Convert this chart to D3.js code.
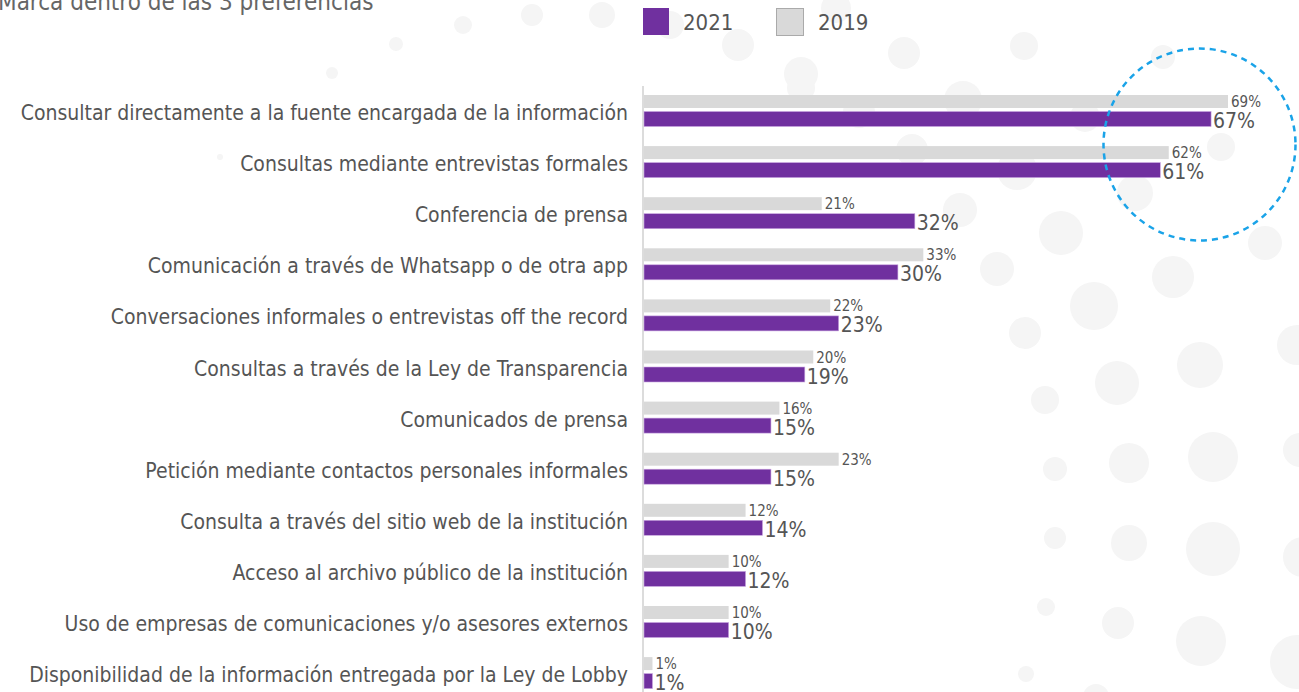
<!DOCTYPE html>
<html>
<head>
<meta charset="utf-8">
<script src="https://cdn.jsdelivr.net/npm/d3@7"></script>
<style>
  html, body { margin: 0; padding: 0; background: #ffffff; }
  svg { display: block; }
  text { font-family: "Liberation Sans Narrow", "DejaVu Sans Condensed", "Roboto", sans-serif; }
</style>
</head>
<body>
<svg id="chart" width="1299" height="692"></svg>
<script>
// ---- Data ----
const title = "Marca dentro de las 3 preferencias";
const categories = [
  "Consultar directamente a la fuente encargada de la información",
  "Consultas mediante entrevistas formales",
  "Conferencia de prensa",
  "Comunicación a través de Whatsapp o de otra app",
  "Conversaciones informales o entrevistas off the record",
  "Consultas a través de la Ley de Transparencia",
  "Comunicados de prensa",
  "Petición mediante contactos personales informales",
  "Consulta a través del sitio web de la institución",
  "Acceso al archivo público de la institución ",
  "Uso de empresas de comunicaciones y/o asesores externos",
  "Disponibilidad de la información entregada por la Ley de Lobby"
];
const values2019 = [69, 62, 21, 33, 22, 20, 16, 23, 12, 10, 10, 1];
const values2021 = [67, 61, 32, 30, 23, 19, 15, 15, 14, 12, 10, 1];
const seriesNames = ["2021", "2019"];

// decorative background dots [x, y, r]
const decorDots = [
  [463,25,9],[532,15,11],[602,15,13],[396,44,7],[332,73,6],[220,157,3],
  [670,25,14],[738,45,16],[801,74,17],[836,8,15],[904,53,16],[1024,46,14],[1163,57,12],
  [963,100,19],[1085,117,15],[1221,147,14],[1017,170,20],[1135,193,18],[859,112,16],
  [912,150,16],[801,88,14],
  [960,210,17],[1061,233,22],[997,269,17],[1173,277,21],[1265,243,17],[1094,306,24],
  [1025,333,16],[1297,345,20],[1200,365,23],[1117,383,22],[1045,400,14],
  [1213,457,25],[1129,463,20],[1055,469,12],[1300,450,17],
  [1213,549,27],[1129,543,18],[1055,538,11],[1303,557,20],
  [1201,641,25],[1118,623,16],[1046,607,9],[1297,662,27],[1026,674,8],[1096,697,13]
];

// ---- Layout ----
const svg = d3.select("#chart");
const x0 = 644;
const x = d3.scaleLinear().domain([0, 69]).range([x0, 1228]);
const y = d3.scaleBand().domain(categories).range([92, 92 + 51.1 * 12]).paddingInner(0).paddingOuter(0);
const colors = { "2021": "#70309f", "2019": "#d9d9d9" };

// background dots
svg.append("g").selectAll("circle").data(decorDots).join("circle")
  .attr("cx", d => d[0]).attr("cy", d => d[1]).attr("r", d => d[2])
  .attr("fill", "#f5f5f5");

// title
svg.append("text").attr("x", -2).attr("y", 10)
  .attr("font-size", 24).attr("fill", "#666").text(title);

// legend
const legend = svg.append("g");
legend.append("rect").attr("x", 643).attr("y", 8).attr("width", 26).attr("height", 27).attr("fill", colors["2021"]);
legend.append("text").attr("x", 683).attr("y", 30).attr("font-size", 22).attr("fill", "#555").text(seriesNames[0]);
legend.append("rect").attr("x", 776.5).attr("y", 8.5).attr("width", 27).attr("height", 27)
  .attr("fill", colors["2019"]).attr("stroke", "#aaaaaa").attr("stroke-width", 1);
legend.append("text").attr("x", 818).attr("y", 30).attr("font-size", 22).attr("fill", "#555").text(seriesNames[1]);

// axis line
svg.append("line").attr("x1", 643).attr("x2", 643).attr("y1", 86).attr("y2", 692)
  .attr("stroke", "#dcdcdc").attr("stroke-width", 2);

// category labels
svg.append("g").selectAll("text").data(categories).join("text")
  .attr("x", 628).attr("y", d => y(d) + 28)
  .attr("text-anchor", "end").attr("font-size", 21).attr("fill", "#555")
  .text(d => d);

// bars
const greyH = 13, purpleH = 15;
svg.append("g").selectAll("rect").data(categories).join("rect")
  .attr("x", x0).attr("y", d => y(d) + 3)
  .attr("width", (d, i) => x(values2019[i]) - x0).attr("height", greyH)
  .attr("fill", colors["2019"]);
svg.append("g").selectAll("rect").data(categories).join("rect")
  .attr("x", x0).attr("y", d => y(d) + 19.5)
  .attr("width", (d, i) => x(values2021[i]) - x0).attr("height", purpleH)
  .attr("fill", colors["2021"]).attr("stroke", "#c9a6e0").attr("stroke-width", 0.6);

// value labels
svg.append("g").selectAll("text").data(categories).join("text")
  .attr("x", (d, i) => x(values2019[i]) + 3).attr("y", d => y(d) + 15)
  .attr("font-size", 15).attr("fill", "#555")
  .text((d, i) => values2019[i] + "%");
svg.append("g").selectAll("text").data(categories).join("text")
  .attr("x", (d, i) => x(values2021[i]) + 2).attr("y", d => y(d) + 36)
  .attr("font-size", 21).attr("fill", "#555")
  .text((d, i) => values2021[i] + "%");

// dashed highlight circle
svg.append("circle").attr("cx", 1199.5).attr("cy", 144.5).attr("r", 96)
  .attr("fill", "none").attr("stroke", "#1aa3e8").attr("stroke-width", 2.5)
  .attr("stroke-dasharray", "6,5");
</script>
</body>
</html>
